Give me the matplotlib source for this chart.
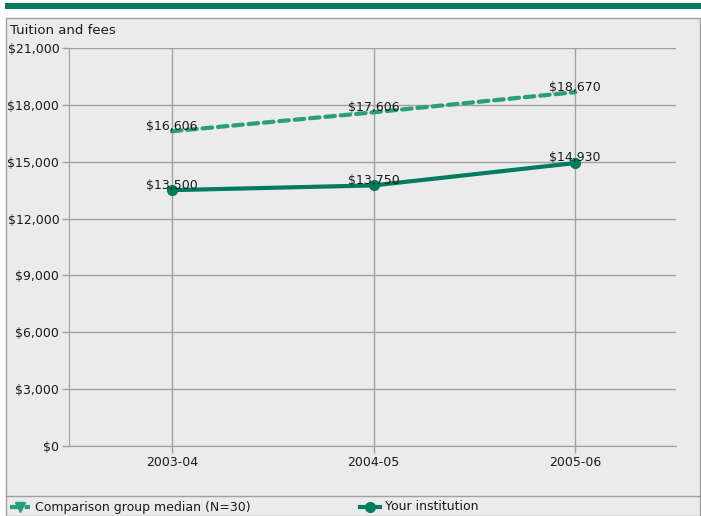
import matplotlib
matplotlib.use("Agg")
import matplotlib.pyplot as plt
from matplotlib.patches import Rectangle
from matplotlib.lines import Line2D
from matplotlib.ticker import FuncFormatter

years = ["2003-04", "2004-05", "2005-06"]
comparison = [16606, 17606, 18670]
institution = [13500, 13750, 14930]
yticks = [0, 3000, 6000, 9000, 12000, 15000, 18000, 21000]

W, H = 701, 516
fig = plt.figure(figsize=(W / 100, H / 100), dpi=100)
fig.patch.set_facecolor("white")

def fx(x):
    return x / W

def fy(y):
    return 1 - y / H

dark = "#007B5F"
light = "#2A9D7F"
grid = "#A0A0A0"
panel = "#EBEBEB"
txt = "#1A1A1A"
fs = 9

# top green bar
fig.patches.append(Rectangle((fx(5), fy(9)), fx(696), 6 / H, transform=fig.transFigure,
                             facecolor="#007A5E", edgecolor="none", zorder=-2))
# panel
fig.patches.append(Rectangle((fx(5.5), fy(516)), fx(694), (516 - 17.5) / H, transform=fig.transFigure,
                             facecolor=panel, edgecolor=grid, linewidth=1, zorder=-2))
fig.lines.append(Line2D([fx(5.5), fx(699.5)], [fy(496), fy(496)], transform=fig.transFigure,
                        color=grid, linewidth=1, zorder=-1))

ax = fig.add_axes([fx(69), fy(446), fx(676 - 69), (446 - 48) / H])
ax.set_zorder(1)
ax.set_facecolor(panel)
x = list(range(len(years)))
ax.set_xlim(-0.51, 2.5)
ax.set_ylim(0, 21000)
ax.set_yticks(yticks)
ax.yaxis.set_major_formatter(FuncFormatter(lambda v, p: f"${int(v):,}"))
ax.set_xticks(x)
ax.set_xticklabels(years)
ax.grid(True, color=grid, linewidth=1)
ax.set_axisbelow(True)
for s in ["top", "right"]:
    ax.spines[s].set_visible(False)
for s in ["left", "bottom"]:
    ax.spines[s].set_color(grid)
ax.tick_params(axis="both", colors=grid, labelcolor=txt, labelsize=fs, length=5, width=1)
ax.tick_params(axis="x", pad=2)
ax.tick_params(axis="y", pad=2)

ax.plot(x, comparison, color=light, linewidth=3, linestyle=(0, (2.3, 1.4)),
        dash_capstyle="round", zorder=3)
ax.plot(x, institution, color=dark, linewidth=3, marker="o", markersize=7, zorder=4)

for xi, v in zip(x, comparison):
    ax.annotate(f"${v:,}", (xi, v), xytext=(0, -1), textcoords="offset points",
                ha="center", va="bottom", fontsize=fs, color=txt, zorder=5)
for xi, v in zip(x, institution):
    ax.annotate(f"${v:,}", (xi, v), xytext=(0, -1), textcoords="offset points",
                ha="center", va="bottom", fontsize=fs, color=txt, zorder=5)

fig.text(fx(10), fy(31), "Tuition and fees", fontsize=fs + 0.5, color=txt, va="center", ha="left")

# legend
ly = fy(507)
fig.lines.append(Line2D([fx(10), fx(30)], [ly, ly], transform=fig.transFigure, color=light,
                        linewidth=3, linestyle=(0, (2, 1.5))))
fig.lines.append(Line2D([fx(20)], [ly], transform=fig.transFigure, color=light, marker="v",
                        markersize=7, linestyle="none"))
fig.text(fx(35), ly, "Comparison group median (N=30)", fontsize=fs, color=txt, va="center", ha="left")
fig.lines.append(Line2D([fx(360), fx(380)], [ly, ly], transform=fig.transFigure, color=dark,
                        linewidth=3))
fig.lines.append(Line2D([fx(370)], [ly], transform=fig.transFigure, color=dark, marker="o",
                        markersize=7, linestyle="none"))
fig.text(fx(385), ly, "Your institution", fontsize=fs, color=txt, va="center", ha="left")

fig.savefig("out.png", dpi=100)
